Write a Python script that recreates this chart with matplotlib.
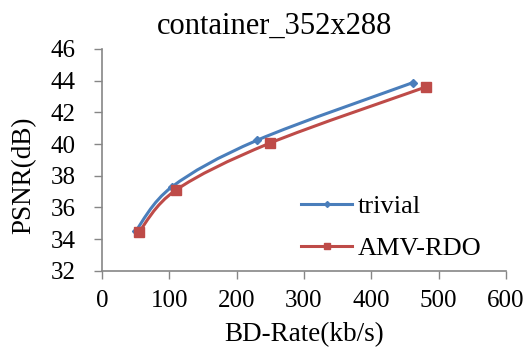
import matplotlib
matplotlib.use("Agg")
import matplotlib.pyplot as plt
from matplotlib.path import Path
from matplotlib.patches import PathPatch

plt.rcParams['font.family'] = ['Liberation Serif', 'DejaVu Serif']

# bitrate (kb/s) vs PSNR (dB)
trivial_rate = [50, 104, 231, 462]
trivial_psnr = [34.5, 37.3, 40.25, 43.88]
amv_rate = [55, 110, 249, 481]
amv_psnr = [34.45, 37.1, 40.05, 43.6]

x_ticks = [0, 100, 200, 300, 400, 500, 600]
y_ticks = [32, 34, 36, 38, 40, 42, 44, 46]

blue = "#4A7EBB"
red = "#BE4B48"
gray = "#868686"


def smooth_path(xs, ys, t=1 / 6):
    # Catmull-Rom style cubic bezier segments through the points
    verts = [(xs[0], ys[0])]
    codes = [Path.MOVETO]
    n = len(xs)
    for i in range(n - 1):
        x0, y0 = xs[max(i - 1, 0)], ys[max(i - 1, 0)]
        x1, y1 = xs[i], ys[i]
        x2, y2 = xs[i + 1], ys[i + 1]
        x3, y3 = xs[min(i + 2, n - 1)], ys[min(i + 2, n - 1)]
        c1 = (x1 + (x2 - x0) * t, y1 + (y2 - y0) * t)
        c2 = (x2 - (x3 - x1) * t, y2 - (y3 - y1) * t)
        verts += [c1, c2, (x2, y2)]
        codes += [Path.CURVE4] * 3
    return Path(verts, codes)


fig = plt.figure(figsize=(5.28, 3.55), dpi=100)
ax = fig.add_axes([0.193, 0.237, 0.765, 0.625])

for xs, ys, c in [(trivial_rate, trivial_psnr, blue), (amv_rate, amv_psnr, red)]:
    ax.add_patch(PathPatch(smooth_path(xs, ys), facecolor="none",
                           edgecolor=c, lw=2.2, capstyle="round"))

ax.plot(trivial_rate, trivial_psnr, ls="none", marker="D", ms=4.5, color=blue)
ax.plot(amv_rate, amv_psnr, ls="none", marker="s", ms=6.5, color=red)

# legend proxies
ax.plot([], [], color=blue, lw=2.2, marker="D", ms=3, label="trivial")
ax.plot([], [], color=red, lw=2.2, marker="s", ms=4.5, label="AMV-RDO")

ax.set_xlim(0, 600)
ax.set_ylim(32, 46)
ax.set_xticks(x_ticks)
ax.set_yticks(y_ticks)
ax.tick_params(labelsize=18, color=gray, length=6, width=1)
ax.tick_params(axis="y", pad=13)
ax.tick_params(axis="x", pad=8)
for s in ["top", "right"]:
    ax.spines[s].set_visible(False)
for s in ["left", "bottom"]:
    ax.spines[s].set_color(gray)
    ax.spines[s].set_linewidth(1.2)

fig.text(0.52, 0.925, "container_352x288", fontsize=22, ha="center", va="center")
ax.set_xlabel("BD-Rate(kb/s)", fontsize=19.5, labelpad=7)
ax.set_ylabel("PSNR(dB)", fontsize=19.5)
ax.yaxis.set_label_coords(-0.163, 0.43)

ax.legend(loc="upper left", bbox_to_anchor=(0.493, 0.345), frameon=False,
          borderpad=0, borderaxespad=0, fontsize=19, handlelength=1.95,
          labelspacing=0.72, handletextpad=0.2)

fig.savefig("out.png", dpi=100)
